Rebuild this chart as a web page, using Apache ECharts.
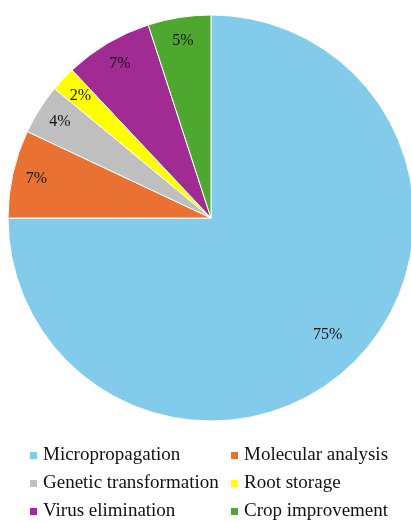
<!DOCTYPE html>
<html>
<head>
<meta charset="utf-8">
<script src="https://cdn.jsdelivr.net/npm/echarts@6/dist/echarts.min.js"></script>
<style>
  html, body { margin: 0; padding: 0; background: #fff; }
  #chart { width: 411px; height: 522px; }
</style>
</head>
<body>
<div id="chart"></div>
<script>
const categories = ['Micropropagation', 'Molecular analysis', 'Genetic transformation', 'Root storage', 'Virus elimination', 'Crop improvement']
const shares = [75, 7, 4, 2, 7, 5]
const colors = ['#83CBEB', '#E97132', '#BFBFBF', '#FFFF00', '#A02B93', '#4EA72E']

const center = [211, 218]
const labelFont = { fontFamily: 'Liberation Serif', fontSize: 16, color: '#111' }
const legendText = { fontFamily: 'Liberation Serif', fontSize: 19, color: '#111', lineHeight: 19 }

const chart = echarts.init(document.getElementById('chart'), null, { renderer: 'canvas' })

// labels sit near the rim, not at the middle of the radius
function labelSeries(radius, keep) {
  return {
    type: 'pie',
    center,
    radius,
    startAngle: 90,
    clockwise: true,
    silent: true,
    animation: false,
    legendHoverLink: false,
    itemStyle: { color: 'transparent', borderWidth: 0 },
    emphasis: { disabled: true },
    label: { show: true, position: 'inside', formatter: '{c}%', ...labelFont },
    labelLine: { show: false },
    data: categories.map((name, i) => ({
      name: name,
      value: shares[i],
      label: { show: keep(i) }
    }))
  }
}

function legendColumn(left, names) {
  return {
    orient: 'vertical',
    left: left,
    top: 446,
    height: 80,
    padding: 0,
    icon: 'rect',
    itemWidth: 9,
    itemHeight: 9,
    itemGap: 9,
    textStyle: legendText,
    data: names
  }
}

const option = {
  backgroundColor: '#fff',
  color: colors,
  legend: [
    legendColumn(28, [categories[0], categories[2], categories[4]]),
    legendColumn(229, [categories[1], categories[3], categories[5]])
  ],
  series: [
    {
      type: 'pie',
      center,
      radius: [0, 203],
      startAngle: 90,
      clockwise: true,
      animation: false,
      itemStyle: { borderColor: '#fff', borderWidth: 1 },
      label: { show: false },
      labelLine: { show: false },
      data: categories.map((name, i) => ({ name: name, value: shares[i] }))
    },
    labelSeries([149, 203], (i) => i > 0),
    labelSeries([121, 203], (i) => i === 0)
  ]
}

chart.setOption(option)
</script>
</body>
</html>
